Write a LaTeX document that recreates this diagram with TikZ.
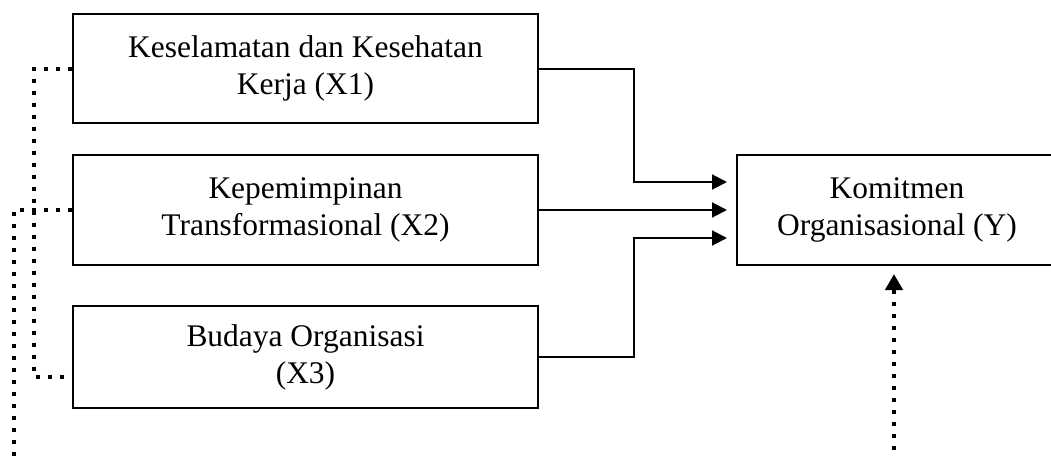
\documentclass[tikz,border=0pt]{standalone}
\usepackage{fontspec}
\setmainfont{Liberation Serif}
\usetikzlibrary{arrows.meta,calc}
\begin{document}
\begin{tikzpicture}[x=0.75pt,y=-0.75pt,
  varbox/.style={draw,line width=1.5pt,rectangle,align=center,inner sep=0pt,
    font=\fontsize{23.6pt}{27.75pt}\selectfont},
  arr/.style={line width=1.5pt,-{Triangle[length=11.25pt,width=11.25pt]}},
  dotline/.style={line width=3pt,dash pattern=on 3pt off 6pt},
  dotarr/.style={dotline,-{Triangle[length=12pt,width=12.75pt]}}]
\useasboundingbox (0,0) rectangle (1051,457);
\clip (0,0) rectangle (1051,457);
\node[varbox,minimum width=348.75pt,minimum height=81.75pt] (x1) at (305.5,68.5) {Keselamatan dan Kesehatan\\Kerja (X1)};
\node[varbox,minimum width=348.75pt,minimum height=82.5pt] (x2) at (305.5,210) {Kepemimpinan\\Transformasional (X2)};
\node[varbox,minimum width=348.75pt,minimum height=76.5pt] (x3) at (305.5,357) {Budaya Organisasi\\(X3)};
\node[varbox,minimum width=240pt,minimum height=82.5pt] (y) at (897,210) {Komitmen\\Organisasional (Y)};
\coordinate (bendx) at (634,0);
\draw[arr] (x1.east) -- (x1.east -| bendx) |- ($(y.west)+(-9,-28)$);
\draw[arr] (x2.east) -- ($(y.west)+(-9,0)$);
\draw[arr] (x3.east) -- (x3.east -| bendx) |- ($(y.west)+(-9,28)$);
\coordinate (lineA) at (34,0);
\coordinate (lineB) at (14,0);
\coordinate (endB) at (14,462);
\coordinate (startY) at (894,462);
\draw[dotline] (x1.west) -- (x1.west -| lineA) |- ($(x3.west)+(0,20)$);
\draw[dotline] (x2.west) -- (x2.west -| lineB) -- (endB);
\draw[dotarr] (startY) -- ($(startY |- y.south)+(0,8)$);
\end{tikzpicture}
\end{document}
